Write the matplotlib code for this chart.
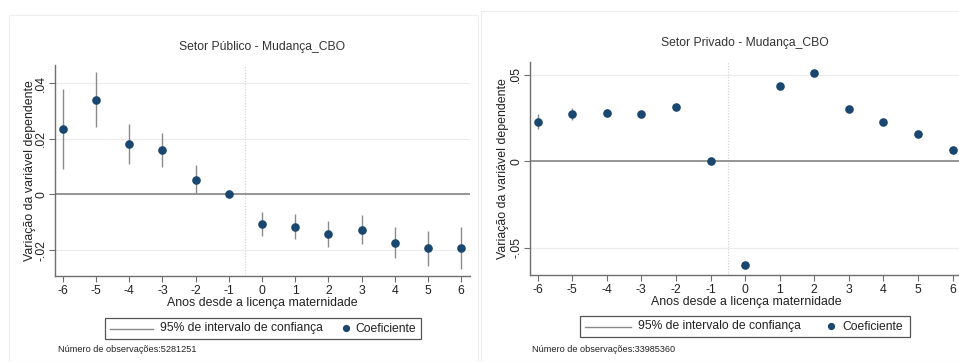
import matplotlib
matplotlib.use("Agg")
import matplotlib.pyplot as plt
from matplotlib.lines import Line2D
from matplotlib.patches import Rectangle

plt.rcParams['font.family'] = ['Liberation Sans', 'DejaVu Sans']

# Event-time axis
anos = [-6, -5, -4, -3, -2, -1, 0, 1, 2, 3, 4, 5, 6]
xtick_labels = ["-6", "-5", "-4", "-3", "-2", "-1", "0", "1", "2", "3", "4", "5", "6"]

# Setor Público: coefficients and 95% CI bounds
pub_coef = [0.0236, 0.0341, 0.0182, 0.0158, 0.0053, 0.0, -0.0106, -0.0117, -0.0142, -0.0127, -0.0174, -0.0194, -0.0192]
pub_lo = [0.0091, 0.0243, 0.0109, 0.0097, 0.0000, 0.0, -0.0150, -0.0160, -0.0190, -0.0178, -0.0230, -0.0258, -0.0267]
pub_hi = [0.0380, 0.0439, 0.0254, 0.0221, 0.0106, 0.0, -0.0064, -0.0071, -0.0094, -0.0075, -0.0118, -0.0132, -0.0117]
pub_yticks = [-0.02, 0.0, 0.02, 0.04]
pub_yticklabels = ["-.02", "0", ".02", ".04"]

# Setor Privado: coefficients and 95% CI bounds
priv_coef = [0.0227, 0.0271, 0.0281, 0.0273, 0.0315, 0.0, -0.0598, 0.0437, 0.0509, 0.0300, 0.0225, 0.0156, 0.0065]
priv_lo = [0.0183, 0.0240, 0.0263, 0.0257, 0.0299, 0.0, -0.0614, 0.0421, 0.0493, 0.0284, 0.0209, 0.0140, 0.0042]
priv_hi = [0.0275, 0.0307, 0.0299, 0.0289, 0.0331, 0.0, -0.0582, 0.0453, 0.0525, 0.0316, 0.0241, 0.0172, 0.0088]
priv_yticks = [-0.05, 0.0, 0.05]
priv_yticklabels = ["-.05", "0", ".05"]

legend_labels = ["95% de intervalo de confiança", "Coeficiente"]

W, H = 959, 362
NAVY = "#1a476f"
CI_GRAY = "#8a8a8a"
AX_GRAY = "#6e6e6e"
TXT = "#222222"

fig = plt.figure(figsize=(W / 100, H / 100), dpi=100)
fig.patch.set_facecolor("white")


def fx(x):
    return x / W


def fy(y):
    return 1 - y / H


def px_axes(left, top, right, bottom):
    return fig.add_axes([fx(left), fy(bottom), (right - left) / W, (bottom - top) / H])


def draw_legend(box, line_x, text1_x, marker_x, text2_x):
    bx0, by0, bx1, by1 = box
    yc = (by0 + by1) / 2
    fig.patches.append(Rectangle((fx(bx0), fy(by1)), (bx1 - bx0) / W, (by1 - by0) / H,
                                 transform=fig.transFigure, fill=True, facecolor="white",
                                 edgecolor="#555555", linewidth=0.9))
    fig.lines.append(Line2D([fx(line_x[0]), fx(line_x[1])], [fy(yc), fy(yc)],
                            transform=fig.transFigure, color=CI_GRAY, linewidth=1.0))
    fig.text(fx(text1_x), fy(yc), legend_labels[0], ha="left", va="center",
             fontsize=8.7, color=TXT)
    fig.lines.append(Line2D([fx(marker_x)], [fy(yc - 0.5)], transform=fig.transFigure,
                            linestyle="none", marker="o", markersize=5.2,
                            color=NAVY, markeredgewidth=0))
    fig.text(fx(text2_x), fy(yc), legend_labels[1], ha="left", va="center",
             fontsize=8.7, color=TXT)


def panel(left, top, right, bottom, xlim, ylim, coef, lo, hi, yticks, yticklabels,
          title, title_xy, ylabel_x, note, note_xy, frame):
    # light outer frame of the graph region
    x0, y0, x1, y1 = frame
    fig.patches.append(Rectangle((fx(x0), fy(y1)), (x1 - x0) / W, (y1 - y0) / H,
                                 transform=fig.transFigure, fill=False,
                                 edgecolor="#eeeeee", linewidth=0.8))

    ax = px_axes(left, top, right, bottom)
    ax.set_facecolor("white")
    ax.set_xlim(*xlim)
    ax.set_ylim(*ylim)
    for s in ("top", "right"):
        ax.spines[s].set_visible(False)
    for s in ("left", "bottom"):
        ax.spines[s].set_color(AX_GRAY)
        ax.spines[s].set_linewidth(1.0)

    ax.set_yticks(yticks)
    ax.set_yticklabels(yticklabels, rotation=90, va="center")
    ax.set_xticks(anos)
    ax.set_xticklabels(xtick_labels)
    ax.tick_params(axis="both", direction="out", length=4, width=0.8, color=AX_GRAY,
                   labelsize=8.8, labelcolor=TXT)
    ax.tick_params(axis="x", pad=2.5)
    ax.tick_params(axis="y", pad=1.5)

    for yt in yticks:
        if yt == 0:
            continue
        ax.axhline(yt, color="#ececec", linewidth=0.8, zorder=0)
    ax.axhline(0, color="#8c8c8c", linewidth=1.3, zorder=1)
    ax.axvline(-0.5, color="#d0d0d0", linewidth=0.8, linestyle=(0, (1, 1.5)), zorder=0)

    ax.vlines(anos, lo, hi, color=CI_GRAY, linewidth=1.0, zorder=2)
    ax.plot(anos, coef, linestyle="none", marker="o", markersize=6.2,
            color=NAVY, markeredgewidth=0, zorder=3)

    fig.text(fx(title_xy[0]), fy(title_xy[1]), title, ha="center", va="center",
             fontsize=8.7, color="#333333")
    ax.set_xlabel("Anos desde a licença maternidade", fontsize=8.9, color=TXT, labelpad=0.2)
    ax.set_ylabel("Variação da variável dependente", fontsize=8.9, color=TXT)
    ax.yaxis.set_label_coords((ylabel_x - left) / (right - left), 0.5)

    fig.text(fx(note_xy[0]), fy(note_xy[1]), note, ha="left", va="center",
             fontsize=6.6, color=TXT)
    return ax


panel(55, 65, 470, 276, (-6.24, 6.27), (-0.0293, 0.0465),
      pub_coef, pub_lo, pub_hi, pub_yticks, pub_yticklabels,
      "Setor Público - Mudança_CBO", (262, 47), 36,
      "Número de observações:5281251", (58, 350), (9, 15, 478, 362))
draw_legend((105, 318, 421, 339), (110, 153), 160, 346, 355)

panel(530, 62, 963, 275, (-6.22, 6.30), (-0.0658, 0.0573),
      priv_coef, priv_lo, priv_hi, priv_yticks, priv_yticklabels,
      "Setor Privado - Mudança_CBO", (745, 43), 509,
      "Número de observações:33985360", (532, 349), (481, 11, 970, 362))
draw_legend((580, 316, 910, 337), (585, 631), 638, 831, 842)

fig.savefig("out.png", dpi=100, facecolor="white")
